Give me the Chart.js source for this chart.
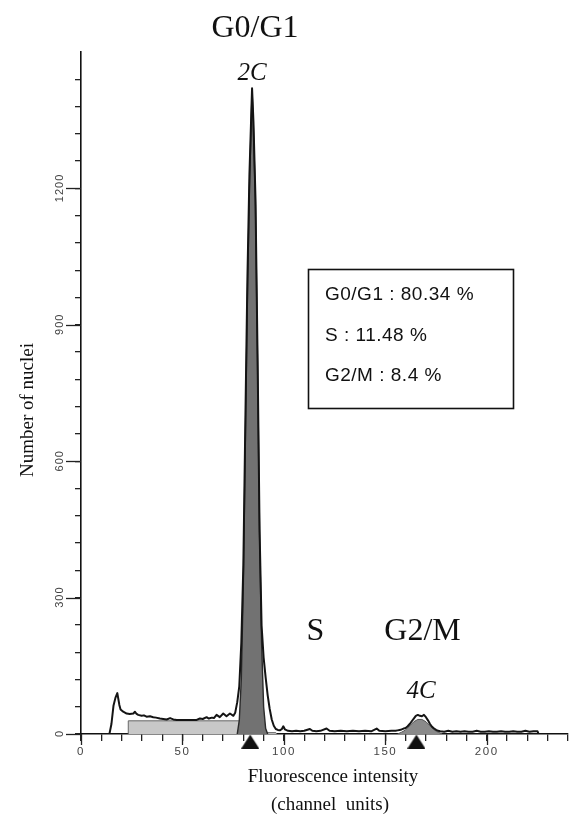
<!DOCTYPE html>
<html>
<head>
<meta charset="utf-8">
<script src="https://cdn.jsdelivr.net/npm/chart.js@4.4.1/dist/chart.umd.min.js"></script>
<style>
  html, body { margin: 0; padding: 0; background: #ffffff; }
  #wrap { width: 570px; height: 816px; position: relative; }
</style>
</head>
<body>
<div id="wrap"><canvas id="c" width="570" height="816"></canvas></div>
<script>
// ---------- data ----------
const outlineChannels = [12.5, 14, 15, 16, 17, 17.9, 18.9, 19.5, 20.8, 22.5, 24, 25.8, 26.6, 27.4, 28.2, 29.9, 31, 32.3, 34, 35.6, 37, 38.9, 40.5, 42.2, 43.9, 45.5, 47.2, 50, 53.7, 57, 58.6, 60, 61.9, 63, 64.5, 65.5, 66.8, 68.4, 70.1, 71.7, 73.4, 75.1, 76, 77, 78, 79, 80, 81, 82, 83, 84.3, 85, 86, 87, 88, 89, 90, 91, 92, 93, 94, 95, 96, 97, 98, 99, 99.7, 100.5, 102, 104, 106, 108, 110, 112.8, 114, 116, 118, 121, 122.5, 125, 128, 131, 134, 137, 140, 143, 145.7, 147, 150, 153, 155, 156, 157, 158, 159, 160, 161, 162, 163, 164, 165, 166, 167, 168, 169, 170, 171, 172, 173, 174, 175, 176, 177, 179, 181, 183, 185, 187, 189, 191, 193, 195, 197, 199, 201, 203, 205, 207, 209, 211, 213, 215, 217, 219, 221, 223, 225, 225.5];
const outlineCounts   = [0, 0, 22, 62, 80, 90, 64, 54, 49, 45, 44, 45, 49, 44, 42, 40, 41, 38, 39, 37, 36, 34, 33, 32, 35, 32, 31, 31, 31, 31, 34, 33, 37, 34, 36, 35, 42, 37, 45, 39, 45, 40, 47, 70, 105, 200, 370, 690, 1000, 1230, 1420, 1345, 1175, 835, 450, 238, 168, 124, 85, 55, 32, 18, 11, 9, 8, 11, 17, 10, 7, 6, 7, 6, 7, 11, 7, 6, 7, 12, 7, 6, 7, 6, 7, 6, 7, 6, 12, 7, 6, 7, 7, 8, 9, 10, 12, 13, 17, 22, 28, 34, 40, 42, 40, 39, 42, 37, 30, 22, 16, 12, 9, 7, 6, 5, 7, 5, 6, 5, 6, 5, 5, 7, 5, 5, 6, 5, 5, 6, 5, 5, 6, 5, 5, 7, 5, 6, 6, 0];

const g1FitChannels = [77, 78, 79, 80, 81, 82, 83, 84.3, 85, 86, 87, 88, 89, 90, 91, 92];
const g1FitCounts   = [0, 30, 120, 330, 650, 960, 1200, 1416, 1330, 1160, 820, 440, 200, 60, 12, 0];

const sFitChannels = [23.3, 23.3, 80.8, 89.7, 96, 96.5];
const sFitCounts   = [0, 29, 29, 3, 3, 0];

const g2FitChannels = [156, 158, 160, 162, 164, 166, 168, 170, 172, 174, 176, 178];
const g2FitCounts   = [0, 4, 9, 18, 27, 32, 32, 27, 18, 9, 4, 0];

const markerChannels = [83.4, 165.3];   // 2C and 4C markers
const markerLevel = -16.5;               // just below the axis

const xTickLabels = [0, 50, 100, 150, 200];
const yTickLabels = [0, 300, 600, 900, 1200];

const phaseStats = ["G0/G1 : 80.34 %", "S : 11.48 %", "G2/M : 8.4 %"];
const xTitleLines = ["Fluorescence intensity", "(channel  units)"];
const yTitle = "Number of nuclei";

// ---------- helpers ----------
const pts = (xs, ys) => xs.map((x, i) => ({ x: x, y: ys[i] }));

const tri = document.createElement('canvas');
tri.width = 18; tri.height = 14;
(function () {
  const t = tri.getContext('2d');
  t.fillStyle = '#111';
  t.beginPath(); t.moveTo(9, 0); t.lineTo(18, 14); t.lineTo(0, 14); t.closePath(); t.fill();
})();

const textPlugin = {
  id: 'texts',
  beforeDraw(chart) { chart.ctx.letterSpacing = '1.6px'; },
  beforeDatasetsDraw(chart) { chart.ctx.letterSpacing = '0px'; },
  afterDraw(chart) {
    const ctx = chart.ctx;
    const xs = chart.scales.x, ys = chart.scales.y;
    const ca = chart.chartArea;
    ctx.save();
    ctx.letterSpacing = '0px';
    // major tick extensions
    ctx.strokeStyle = '#222'; ctx.lineWidth = 1.3;
    yTickLabels.forEach(v => {
      const y = Math.round(ys.getPixelForValue(v)) + 0.5;
      ctx.beginPath(); ctx.moveTo(ca.left, y); ctx.lineTo(ca.left - 15, y); ctx.stroke();
    });
    xTickLabels.forEach(v => {
      const x = Math.round(xs.getPixelForValue(v)) + 0.5;
      ctx.beginPath(); ctx.moveTo(x, ca.bottom); ctx.lineTo(x, ca.bottom + 11); ctx.stroke();
    });
    // rotated y tick labels
    ctx.fillStyle = '#444';
    ctx.font = '11px "Liberation Sans", Arial, sans-serif';
    ctx.letterSpacing = '1px';
    ctx.textAlign = 'center'; ctx.textBaseline = 'middle';
    yTickLabels.forEach(v => {
      const y = ys.getPixelForValue(v);
      ctx.save(); ctx.translate(ca.left - 21, y); ctx.rotate(-Math.PI / 2);
      ctx.fillText(String(v), 0.5, 0); ctx.restore();
    });
    ctx.letterSpacing = '0px';
    // y title
    ctx.fillStyle = '#111';
    ctx.font = '19px "Liberation Serif", "Times New Roman", serif';
    ctx.save(); ctx.translate(28, 410); ctx.rotate(-Math.PI / 2);
    ctx.textBaseline = 'middle'; ctx.fillText(yTitle, 0, 0); ctx.restore();
    // x title
    ctx.textBaseline = 'alphabetic';
    ctx.fillText(xTitleLines[0], 333, 782);
    ctx.fillText(xTitleLines[1], 330, 810);
    // phase labels
    ctx.font = '32px "Liberation Serif", "Times New Roman", serif';
    ctx.fillText('G0/G1', 255, 37);
    ctx.fillText('S', 315.5, 640);
    ctx.fillText('G2/M', 422.5, 640);
    ctx.font = 'italic 25px "Liberation Serif", "Times New Roman", serif';
    ctx.fillText('2C', 252, 80);
    ctx.fillText('4C', 421, 698);
    // stats box
    ctx.strokeStyle = '#111'; ctx.lineWidth = 1.6;
    ctx.strokeRect(308.5, 269.5, 205, 139);
    ctx.font = '19px "Liberation Sans", Arial, sans-serif';
    ctx.letterSpacing = '0.5px';
    ctx.textAlign = 'left';
    const base = [300, 341, 381];
    phaseStats.forEach((s, i) => ctx.fillText(s, 325, base[i]));
    ctx.restore();
  }
};

new Chart(document.getElementById('c'), {
  type: 'line',
  data: {
    datasets: [
      { label: 'markers', data: pts(markerChannels, markerChannels.map(() => markerLevel)),
        showLine: false, pointStyle: tri, pointRadius: 9, clip: false, order: -1 },
      { label: 'histogram', data: pts(outlineChannels, outlineCounts), borderColor: '#141414',
        borderWidth: 2, fill: false, pointRadius: 0, tension: 0, borderJoinStyle: 'round', order: 0 },
      { label: 'G0/G1 fit', data: pts(g1FitChannels, g1FitCounts), borderColor: '#2a2a2a',
        borderWidth: 1.4, backgroundColor: '#727272', fill: 'origin', pointRadius: 0, tension: 0, order: 1 },
      { label: 'G2/M fit', data: pts(g2FitChannels, g2FitCounts), borderColor: '#555',
        borderWidth: 1, backgroundColor: '#8a8a8a', fill: 'origin', pointRadius: 0, tension: 0, order: 2 },
      { label: 'S fit', data: pts(sFitChannels, sFitCounts), borderColor: '#666',
        borderWidth: 1, backgroundColor: '#c8c8c8', fill: 'origin', pointRadius: 0, tension: 0, order: 3 }
    ]
  },
  options: {
    responsive: false, animation: false, events: [],
    layout: { autoPadding: false, padding: { top: 52, right: 2, left: 0, bottom: 0 } },
    plugins: { legend: { display: false }, tooltip: { enabled: false } },
    scales: {
      x: {
        type: 'linear', min: 0, max: 240,
        ticks: { stepSize: 10, autoSkip: false, maxRotation: 0, minRotation: 0,
          callback: v => xTickLabels.includes(v) ? String(v) : '',
          font: { family: '"Liberation Sans", Arial, sans-serif', size: 11.5 }, color: '#444', padding: 4 },
        grid: { drawOnChartArea: false, drawTicks: true, tickLength: 7, color: '#222', lineWidth: 1.3 },
        border: { display: true, color: '#111', width: 1.6 },
        afterFit: s => { s.height = 82; s.paddingLeft = 0; s.paddingRight = 0; }
      },
      y: {
        type: 'linear', min: 0, max: 1500,
        ticks: { stepSize: 60, autoSkip: false, callback: () => '' },
        grid: { drawOnChartArea: false, drawTicks: true, tickLength: 6, lineWidth: 1.3,
          color: c => (c.tick && c.tick.value === 1500) ? 'rgba(0,0,0,0)' : '#222' },
        border: { display: true, color: '#111', width: 1.6 },
        afterFit: s => { s.width = 81; s.paddingTop = 0; s.paddingBottom = 0; }
      }
    }
  },
  plugins: [textPlugin]
});
</script>
</body>
</html>
